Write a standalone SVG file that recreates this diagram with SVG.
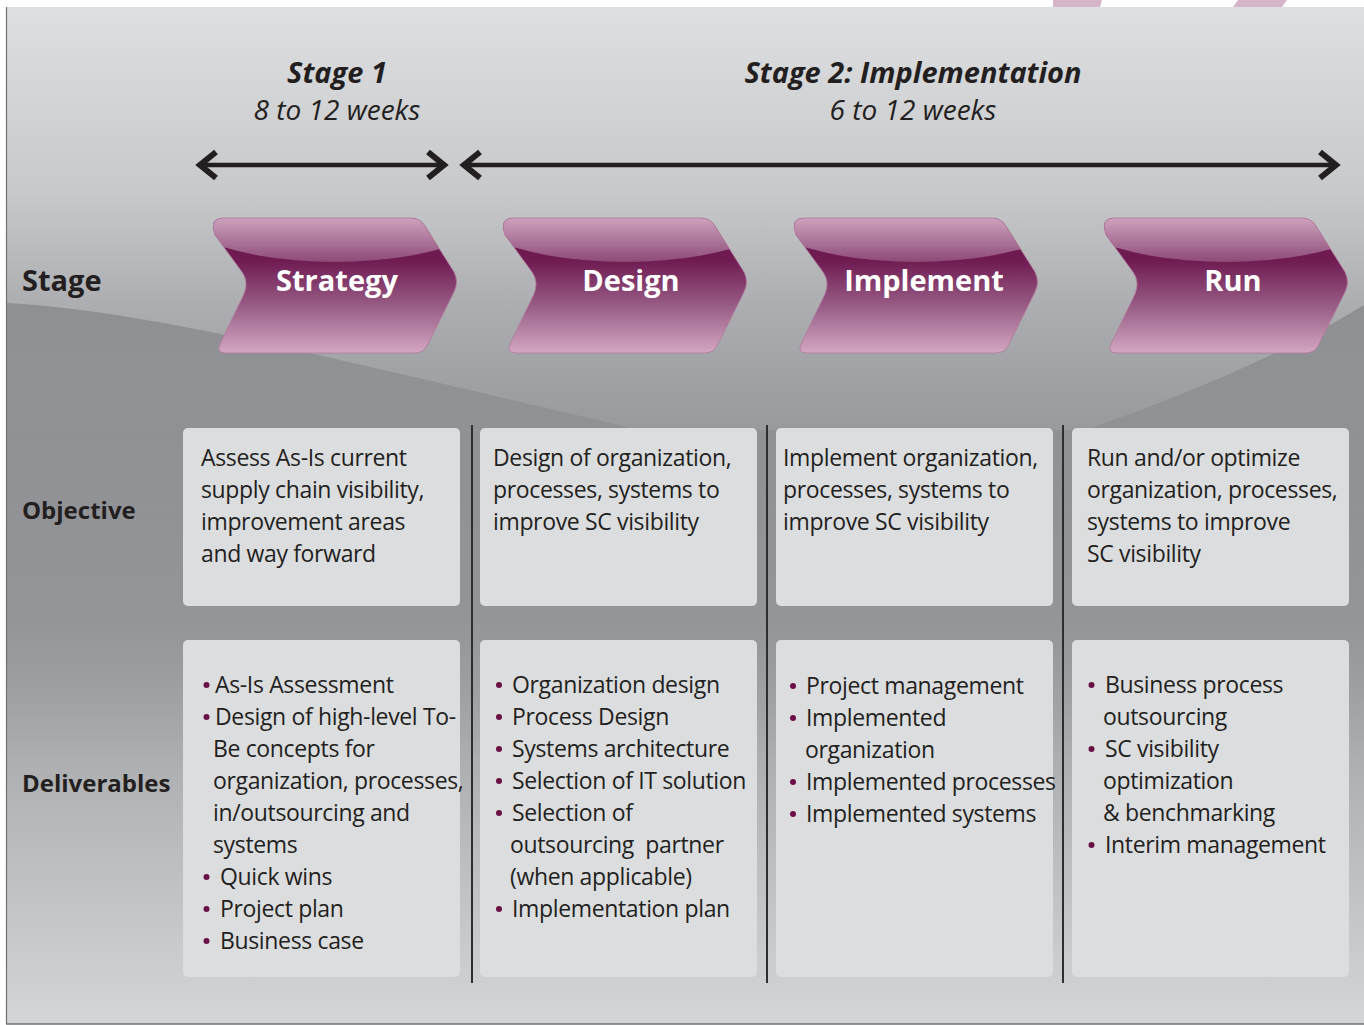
<svg xmlns="http://www.w3.org/2000/svg" width="1364" height="1025" viewBox="0 0 1364 1025">
<defs>
<style>
.hdr{font-family:"Open Sans","Liberation Sans",sans-serif;font-style:italic;fill:#231f20;text-anchor:middle}
.lbl{font-family:"Open Sans","Liberation Sans",sans-serif;font-weight:bold;fill:#231f20}
.chv{font-family:"Open Sans","Liberation Sans",sans-serif;font-weight:bold;fill:#ffffff;font-size:29px;text-anchor:middle}
.body{font-family:"Open Sans","Liberation Sans",sans-serif;font-size:23px;letter-spacing:-0.35px;fill:#231f20;white-space:pre}
.box{fill:#dcdddf}
.bul{fill:#6b0f47}
.div{stroke:#2e2e2e;stroke-width:2}
.arr{stroke:#231f20;fill:none;stroke-width:4.5}
.head{stroke:#231f20;fill:none;stroke-width:6;stroke-linecap:butt;stroke-linejoin:miter}
</style>
<linearGradient id="bg" x1="0" y1="7" x2="0" y2="1024" gradientUnits="userSpaceOnUse">
<stop offset="0" stop-color="#dedfe1"/>
<stop offset="0.18" stop-color="#c8c9cb"/>
<stop offset="0.3" stop-color="#abacaf"/>
<stop offset="0.42" stop-color="#98999c"/>
<stop offset="0.6" stop-color="#97989b"/>
<stop offset="0.8" stop-color="#b7b8ba"/>
<stop offset="1" stop-color="#d4d5d7"/>
</linearGradient>
<linearGradient id="wave" x1="0" y1="300" x2="0" y2="760" gradientUnits="userSpaceOnUse">
<stop offset="0" stop-color="#8d8e91" stop-opacity="0.95"/>
<stop offset="0.4" stop-color="#8e8f92" stop-opacity="0.7"/>
<stop offset="1" stop-color="#8e8f92" stop-opacity="0"/>
</linearGradient>
<linearGradient id="chevFill" x1="0" y1="0" x2="0" y2="135" gradientUnits="userSpaceOnUse">
<stop offset="0" stop-color="#6a164c"/>
<stop offset="0.32" stop-color="#701c53"/>
<stop offset="0.65" stop-color="#985c85"/>
<stop offset="1" stop-color="#d3a7c3"/>
</linearGradient>
<linearGradient id="gloss" x1="0" y1="0" x2="0" y2="45" gradientUnits="userSpaceOnUse">
<stop offset="0" stop-color="#cda2be"/>
<stop offset="1" stop-color="#8c4876"/>
</linearGradient>
<path id="chevPath" d="M11,0 L199,0 Q208,0 213,8 L242,54 Q247,64 242,74 L215,128 Q211,135 203,135 L14,135 Q4,135 8,126 L32,76 Q37,64 30,54 L3,17 Q-3,0 11,0 Z"/>
<clipPath id="chevClip"><use href="#chevPath"/></clipPath>
<symbol id="chev" overflow="visible">
<use href="#chevPath" fill="url(#chevFill)"/>
<ellipse cx="123" cy="-43" rx="200" ry="87" fill="url(#gloss)" clip-path="url(#chevClip)"/>
<use href="#chevPath" fill="none" stroke="#b07a9a" stroke-width="0.8"/>
</symbol>
</defs>

<g id="background">
<rect x="0" y="0" width="1364" height="1025" fill="#ffffff"/>
<polygon points="1053,0 1102,0 1100,7 1053,7" fill="#d6b5c8"/>
<polygon points="1238,0 1287,0 1282,7 1233,7" fill="#d6b5c8"/>
<rect x="6" y="7" width="1358" height="1017" fill="url(#bg)"/>
<path d="M6,303 C150,310 360,365 640,430 L1085,430 C1200,390 1300,345 1364,305 L1364,760 L6,760 Z" fill="url(#wave)"/>
<line x1="6.5" y1="7" x2="6.5" y2="1024" stroke="#6f7072" stroke-width="1.2"/>
<line x1="6" y1="1024" x2="1364" y2="1024" stroke="#6f7072" stroke-width="1.5"/>
</g>

<g id="headers">
<text class="hdr" x="337" y="83" font-size="29" font-weight="bold">Stage 1</text>
<text class="hdr" x="337" y="120" font-size="28">8 to 12 weeks</text>
<text class="hdr" x="913" y="83" font-size="29" font-weight="bold">Stage 2: Implementation</text>
<text class="hdr" x="913" y="120" font-size="28">6 to 12 weeks</text>
</g>

<g id="connectors">
<line class="arr" x1="201" y1="165" x2="443" y2="165"/>
<polyline class="head" points="216,152 200,165 216,178"/>
<polyline class="head" points="428,152 444,165 428,178"/>
<line class="arr" x1="465" y1="165" x2="1335" y2="165"/>
<polyline class="head" points="480,152 464,165 480,178"/>
<polyline class="head" points="1320,152 1336,165 1320,178"/>
<line class="div" x1="472" y1="425" x2="472" y2="983"/>
<line class="div" x1="767" y1="425" x2="767" y2="983"/>
<line class="div" x1="1063" y1="425" x2="1063" y2="983"/>
</g>

<g id="row-labels">
<text class="lbl" x="22" y="291" font-size="29">Stage</text>
<text class="lbl" x="22" y="519" font-size="24">Objective</text>
<text class="lbl" x="22" y="792" font-size="24">Deliverables</text>
</g>

<g id="stage-strategy">
<use href="#chev" x="212" y="218"/>
<text class="chv" x="337" y="291">Strategy</text>
</g>
<g id="stage-design">
<use href="#chev" x="502" y="218"/>
<text class="chv" x="631" y="291">Design</text>
</g>
<g id="stage-implement">
<use href="#chev" x="793" y="218"/>
<text class="chv" x="924" y="291">Implement</text>
</g>
<g id="stage-run">
<use href="#chev" x="1103" y="218"/>
<text class="chv" x="1233" y="291">Run</text>
</g>

<g id="objective-strategy">
<rect class="box" x="183" y="428" width="277" height="178" rx="5"/>
<text class="body" x="201" y="466">Assess As-Is current</text>
<text class="body" x="201" y="498">supply chain visibility,</text>
<text class="body" x="201" y="530">improvement areas</text>
<text class="body" x="201" y="562">and way forward</text>
</g>
<g id="objective-design">
<rect class="box" x="480" y="428" width="277" height="178" rx="5"/>
<text class="body" x="493" y="466">Design of organization,</text>
<text class="body" x="493" y="498">processes, systems to</text>
<text class="body" x="493" y="530">improve SC visibility</text>
</g>
<g id="objective-implement">
<rect class="box" x="776" y="428" width="277" height="178" rx="5"/>
<text class="body" x="783" y="466">Implement organization,</text>
<text class="body" x="783" y="498">processes, systems to</text>
<text class="body" x="783" y="530">improve SC visibility</text>
</g>
<g id="objective-run">
<rect class="box" x="1072" y="428" width="277" height="178" rx="5"/>
<text class="body" x="1087" y="466">Run and/or optimize</text>
<text class="body" x="1087" y="498">organization, processes,</text>
<text class="body" x="1087" y="530">systems to improve</text>
<text class="body" x="1087" y="562">SC visibility</text>
</g>

<g id="deliverables-strategy">
<rect class="box" x="183" y="640" width="277" height="337" rx="5"/>
<circle class="bul" cx="206.5" cy="685" r="3"/>
<text class="body" x="215" y="693">As-Is Assessment</text>
<circle class="bul" cx="206.5" cy="717" r="3"/>
<text class="body" x="215" y="725">Design of high-level To-</text>
<text class="body" x="213" y="757">Be concepts for</text>
<text class="body" x="213" y="789">organization, processes,</text>
<text class="body" x="213" y="821">in/outsourcing and</text>
<text class="body" x="213" y="853">systems</text>
<circle class="bul" cx="206.5" cy="877" r="3"/>
<text class="body" x="220" y="885">Quick wins</text>
<circle class="bul" cx="206.5" cy="909" r="3"/>
<text class="body" x="220" y="917">Project plan</text>
<circle class="bul" cx="206.5" cy="941" r="3"/>
<text class="body" x="220" y="949">Business case</text>
</g>
<g id="deliverables-design">
<rect class="box" x="480" y="640" width="277" height="337" rx="5"/>
<circle class="bul" cx="499" cy="685" r="3"/>
<text class="body" x="512" y="693">Organization design</text>
<circle class="bul" cx="499" cy="717" r="3"/>
<text class="body" x="512" y="725">Process Design</text>
<circle class="bul" cx="499" cy="749" r="3"/>
<text class="body" x="512" y="757">Systems architecture</text>
<circle class="bul" cx="499" cy="781" r="3"/>
<text class="body" x="512" y="789">Selection of IT solution</text>
<circle class="bul" cx="499" cy="813" r="3"/>
<text class="body" x="512" y="821">Selection of</text>
<text class="body" x="510" y="853">outsourcing  partner</text>
<text class="body" x="510" y="885">(when applicable)</text>
<circle class="bul" cx="499" cy="909" r="3"/>
<text class="body" x="512" y="917">Implementation plan</text>
</g>
<g id="deliverables-implement">
<rect class="box" x="776" y="640" width="277" height="337" rx="5"/>
<circle class="bul" cx="793" cy="686" r="3"/>
<text class="body" x="806" y="694">Project management</text>
<circle class="bul" cx="793" cy="718" r="3"/>
<text class="body" x="806" y="726">Implemented</text>
<text class="body" x="805" y="758">organization</text>
<circle class="bul" cx="793" cy="782" r="3"/>
<text class="body" x="806" y="790">Implemented processes</text>
<circle class="bul" cx="793" cy="814" r="3"/>
<text class="body" x="806" y="822">Implemented systems</text>
</g>
<g id="deliverables-run">
<rect class="box" x="1072" y="640" width="277" height="337" rx="5"/>
<circle class="bul" cx="1091.5" cy="685" r="3"/>
<text class="body" x="1105" y="693">Business process</text>
<text class="body" x="1103" y="725">outsourcing</text>
<circle class="bul" cx="1091.5" cy="749" r="3"/>
<text class="body" x="1105" y="757">SC visibility</text>
<text class="body" x="1103" y="789">optimization</text>
<text class="body" x="1103" y="821">&amp; benchmarking</text>
<circle class="bul" cx="1091.5" cy="845" r="3"/>
<text class="body" x="1105" y="853">Interim management</text>
</g>
</svg>
